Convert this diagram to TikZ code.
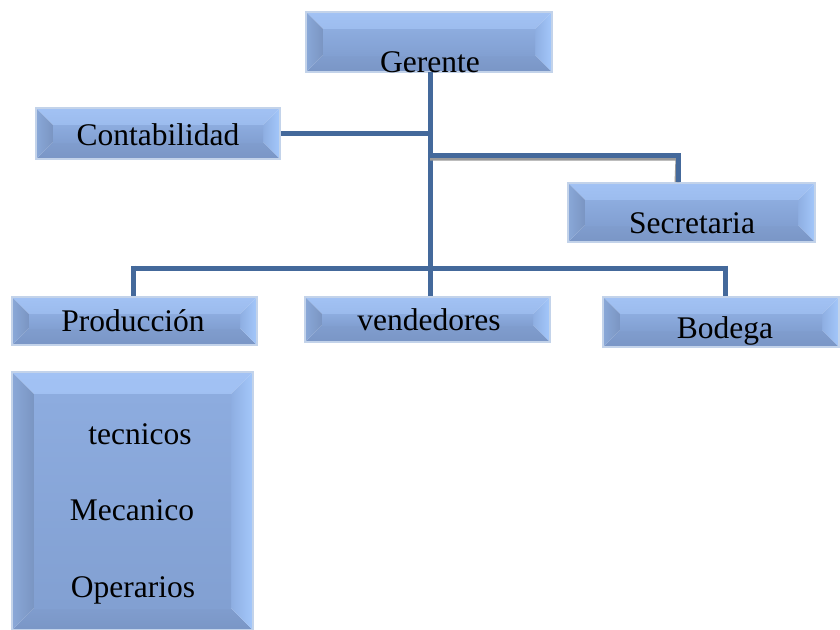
\documentclass[tikz,border=0pt]{standalone}
\usepackage{fontspec}
\setmainfont{Liberation Serif}
\definecolor{faceT}{HTML}{8DACDF}
\definecolor{faceB}{HTML}{82A0D2}
\definecolor{topO}{HTML}{A2C2F4}
\definecolor{topI}{HTML}{8FAEE0}
\definecolor{botO}{HTML}{7A96C6}
\definecolor{botI}{HTML}{809DCE}
\definecolor{leftO}{HTML}{8AA8D8}
\definecolor{leftI}{HTML}{7A95C2}
\definecolor{rightO}{HTML}{A4C8FB}
\definecolor{rightI}{HTML}{8EAEE2}
\definecolor{bord}{HTML}{C3D3EA}
\definecolor{conn}{HTML}{44699B}
\definecolor{shad}{HTML}{9A9A9A}
\newcommand\bevelfill[1]{%
  \shade[top color=topO, bottom color=topI] (path picture bounding box.north west) -- (path picture bounding box.north east)
    -- ([xshift=-#1pt,yshift=-#1pt]path picture bounding box.north east)
    -- ([xshift=#1pt,yshift=-#1pt]path picture bounding box.north west) -- cycle;
  \shade[top color=botI, bottom color=botO] (path picture bounding box.south west) -- (path picture bounding box.south east)
    -- ([xshift=-#1pt,yshift=#1pt]path picture bounding box.south east)
    -- ([xshift=#1pt,yshift=#1pt]path picture bounding box.south west) -- cycle;
  \shade[left color=leftO, right color=leftI] (path picture bounding box.north west)
    -- ([xshift=#1pt,yshift=-#1pt]path picture bounding box.north west)
    -- ([xshift=#1pt,yshift=#1pt]path picture bounding box.south west)
    -- (path picture bounding box.south west) -- cycle;
  \shade[left color=rightI, right color=rightO] (path picture bounding box.north east)
    -- ([xshift=-#1pt,yshift=-#1pt]path picture bounding box.north east)
    -- ([xshift=-#1pt,yshift=#1pt]path picture bounding box.south east)
    -- (path picture bounding box.south east) -- cycle;
  \shade[top color=faceT, bottom color=faceB]
    ([xshift=#1pt,yshift=-#1pt]path picture bounding box.north west) rectangle
    ([xshift=-#1pt,yshift=#1pt]path picture bounding box.south east);
}
\tikzset{
  bev/.style={rectangle, draw=bord, line width=1.5pt, inner sep=0pt,
    path picture={\bevelfill{#1}}},
  bev/.default=17,
  lbl/.style={anchor=base, inner sep=0pt, font=\fontsize{31.5pt}{37pt}\selectfont},
  link/.style={draw=conn, line width=5pt},
  shadowlink/.style={draw=shad, line width=5pt}
}
\begin{document}
\begin{tikzpicture}[x=1pt,y=-1pt]
\useasboundingbox (0,0) rectangle (840,629);
% boxes
\node[bev, minimum width=246, minimum height=60] (g) at (429,42) {};
\node[bev, minimum width=244, minimum height=51] (c) at (158,133.5) {};
\node[bev, minimum width=247, minimum height=59] (s) at (691.5,212.5) {};
\node[bev, minimum width=245, minimum height=48] (p) at (134.5,321) {};
\node[bev, minimum width=245, minimum height=45] (v) at (427.5,319.5) {};
\node[bev, minimum width=236, minimum height=50] (b) at (721,322) {};
\node[bev=22, minimum width=241, minimum height=258] (t) at (132.5,501) {};
% labels
\node[lbl] (gt) at (430,72) {Gerente};
\node[lbl] (ct) at (158,145) {Contabilidad};
\node[lbl] (st) at (692,233) {Secretaria};
\node[lbl] (pt) at (133,331) {Producción};
\node[lbl] (vt) at (429,330) {vendedores};
\node[lbl] (bt) at (725,338) {Bodega};
\node[lbl] (t1) at (140,444) {tecnicos};
\node[lbl] (t2) at (132,520) {Mecanico};
\node[lbl] (t3) at (133,597) {Operarios};
% connector coordinates
\coordinate (top) at (430,72);
\coordinate (cj) at (430,133);
\coordinate (sj) at (430,155);
\coordinate (sc) at (678,155);
\coordinate (bus) at (430,268);
\coordinate (bl) at (133,268);
\coordinate (br) at (725,268);
% connectors
\draw[link] (top) -- (bus);
\draw[link] (c.east |- cj) -- (cj);
\draw[shadowlink] ([yshift=-3pt]sj) -- ([yshift=-3pt]sc) -- ([xshift=-1pt]sc |- s.north);
\draw[link] (sj) -- (sc) -- (sc |- s.north);
\draw[link] (bl) -- (br);
\draw[link] ([yshift=2.5pt]bl) -- (bl |- p.north);
\draw[link] (bus) -- (bus |- v.north);
\draw[link] ([yshift=2.5pt]br) -- (br |- b.north);
\end{tikzpicture}
\end{document}
